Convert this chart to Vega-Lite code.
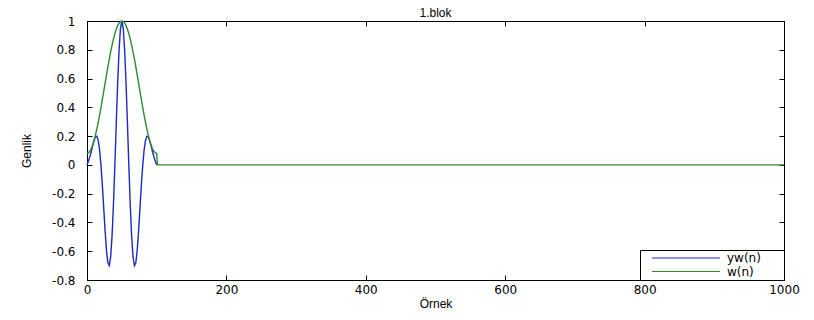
{
  "$schema": "https://vega.github.io/schema/vega-lite/v6.json",
  "width": 697,
  "height": 259,
  "autosize": {"type": "none"},
  "padding": {"left": 87, "top": 21, "right": 30, "bottom": 40},
  "background": "white",
  "title": {"text": "1.blok", "font": "Liberation Sans", "fontSize": 12, "fontWeight": "normal", "color": "black", "offset": -5},
  "config": {
    "view": {"stroke": "black", "strokeWidth": 1},
    "axis": {
      "grid": false, "domain": false, "tickColor": "black", "tickSize": -5,
      "labelFont": "DejaVu Sans", "labelFontSize": 12, "labelColor": "black",
      "titleFont": "Liberation Sans", "titleFontSize": 12, "titleFontWeight": "normal", "titleColor": "black",
      "labelFlush": false
    }
  },
  "data": {"values": [
    {"n":0,"v":0,"s":"yw(n)"},{"n":2,"v":0.0258,"s":"yw(n)"},{"n":4,"v":0.0555,"s":"yw(n)"},{"n":6,"v":0.0909,"s":"yw(n)"},{"n":8,"v":0.1302,"s":"yw(n)"},{"n":10,"v":0.1679,"s":"yw(n)"},{"n":12,"v":0.1947,"s":"yw(n)"},{"n":14,"v":0.1997,"s":"yw(n)"},{"n":16,"v":0.1725,"s":"yw(n)"},{"n":18,"v":0.1063,"s":"yw(n)"},{"n":20,"v":0,"s":"yw(n)"},{"n":22,"v":-0.1402,"s":"yw(n)"},{"n":24,"v":-0.3004,"s":"yw(n)"},{"n":26,"v":-0.4602,"s":"yw(n)"},{"n":28,"v":-0.5955,"s":"yw(n)"},{"n":30,"v":-0.6822,"s":"yw(n)"},{"n":32,"v":-0.6999,"s":"yw(n)"},{"n":34,"v":-0.6363,"s":"yw(n)"},{"n":36,"v":-0.4898,"s":"yw(n)"},{"n":38,"v":-0.2705,"s":"yw(n)"},{"n":40,"v":0,"s":"yw(n)"},{"n":42,"v":0.2914,"s":"yw(n)"},{"n":44,"v":0.5688,"s":"yw(n)"},{"n":46,"v":0.7973,"s":"yw(n)"},{"n":48,"v":0.9476,"s":"yw(n)"},{"n":50,"v":1,"s":"yw(n)"},{"n":52,"v":0.9476,"s":"yw(n)"},{"n":54,"v":0.7973,"s":"yw(n)"},{"n":56,"v":0.5688,"s":"yw(n)"},{"n":58,"v":0.2914,"s":"yw(n)"},{"n":60,"v":0,"s":"yw(n)"},{"n":62,"v":-0.2705,"s":"yw(n)"},{"n":64,"v":-0.4898,"s":"yw(n)"},{"n":66,"v":-0.6363,"s":"yw(n)"},{"n":68,"v":-0.6999,"s":"yw(n)"},{"n":70,"v":-0.6822,"s":"yw(n)"},{"n":72,"v":-0.5955,"s":"yw(n)"},{"n":74,"v":-0.4602,"s":"yw(n)"},{"n":76,"v":-0.3004,"s":"yw(n)"},{"n":78,"v":-0.1402,"s":"yw(n)"},{"n":80,"v":0,"s":"yw(n)"},{"n":82,"v":0.1063,"s":"yw(n)"},{"n":84,"v":0.1725,"s":"yw(n)"},{"n":86,"v":0.1997,"s":"yw(n)"},{"n":88,"v":0.1947,"s":"yw(n)"},{"n":90,"v":0.1679,"s":"yw(n)"},{"n":92,"v":0.1302,"s":"yw(n)"},{"n":94,"v":0.0909,"s":"yw(n)"},{"n":96,"v":0.0555,"s":"yw(n)"},{"n":98,"v":0.0258,"s":"yw(n)"},{"n":100,"v":0,"s":"yw(n)"},
    {"n":0,"v":0.08,"s":"w(n)"},{"n":2,"v":0.0836,"s":"w(n)"},{"n":4,"v":0.0945,"s":"w(n)"},{"n":6,"v":0.1123,"s":"w(n)"},{"n":8,"v":0.1369,"s":"w(n)"},{"n":10,"v":0.1679,"s":"w(n)"},{"n":12,"v":0.2047,"s":"w(n)"},{"n":14,"v":0.2468,"s":"w(n)"},{"n":16,"v":0.2935,"s":"w(n)"},{"n":18,"v":0.3441,"s":"w(n)"},{"n":20,"v":0.3979,"s":"w(n)"},{"n":22,"v":0.4538,"s":"w(n)"},{"n":24,"v":0.5111,"s":"w(n)"},{"n":26,"v":0.5689,"s":"w(n)"},{"n":28,"v":0.6262,"s":"w(n)"},{"n":30,"v":0.6822,"s":"w(n)"},{"n":32,"v":0.7359,"s":"w(n)"},{"n":34,"v":0.7865,"s":"w(n)"},{"n":36,"v":0.8332,"s":"w(n)"},{"n":38,"v":0.8753,"s":"w(n)"},{"n":40,"v":0.9122,"s":"w(n)"},{"n":42,"v":0.9431,"s":"w(n)"},{"n":44,"v":0.9677,"s":"w(n)"},{"n":46,"v":0.9855,"s":"w(n)"},{"n":48,"v":0.9964,"s":"w(n)"},{"n":50,"v":1,"s":"w(n)"},{"n":52,"v":0.9964,"s":"w(n)"},{"n":54,"v":0.9855,"s":"w(n)"},{"n":56,"v":0.9677,"s":"w(n)"},{"n":58,"v":0.9431,"s":"w(n)"},{"n":60,"v":0.9122,"s":"w(n)"},{"n":62,"v":0.8753,"s":"w(n)"},{"n":64,"v":0.8332,"s":"w(n)"},{"n":66,"v":0.7865,"s":"w(n)"},{"n":68,"v":0.7359,"s":"w(n)"},{"n":70,"v":0.6822,"s":"w(n)"},{"n":72,"v":0.6262,"s":"w(n)"},{"n":74,"v":0.5689,"s":"w(n)"},{"n":76,"v":0.5111,"s":"w(n)"},{"n":78,"v":0.4538,"s":"w(n)"},{"n":80,"v":0.3979,"s":"w(n)"},{"n":82,"v":0.3441,"s":"w(n)"},{"n":84,"v":0.2935,"s":"w(n)"},{"n":86,"v":0.2468,"s":"w(n)"},{"n":88,"v":0.2047,"s":"w(n)"},{"n":90,"v":0.1679,"s":"w(n)"},{"n":92,"v":0.1369,"s":"w(n)"},{"n":94,"v":0.1123,"s":"w(n)"},{"n":96,"v":0.0945,"s":"w(n)"},{"n":98,"v":0.0836,"s":"w(n)"},{"n":100,"v":0.08,"s":"w(n)"},{"n":101,"v":0,"s":"w(n)"},{"n":1000,"v":0,"s":"w(n)"}
  ]},
  "layer": [
    {
      "mark": {"type": "line", "strokeWidth": 1.4},
      "encoding": {
        "x": {"field": "n", "type": "quantitative", "scale": {"domain": [0, 1000], "nice": false},
              "axis": {"title": "Örnek", "values": [0, 200, 400, 600, 800, 1000], "labelExpr": "'' + datum.value", "labelPadding": 9, "titlePadding": 3}},
        "y": {"field": "v", "type": "quantitative", "scale": {"domain": [-0.8, 1], "nice": false, "zero": false},
              "axis": {"title": "Genlik", "values": [-0.8, -0.6, -0.4, -0.2, 0, 0.2, 0.4, 0.6, 0.8, 1], "labelExpr": "'' + datum.value", "labelPadding": 17, "titlePadding": 18}},
        "color": {"field": "s", "type": "nominal",
                  "scale": {"domain": ["yw(n)", "w(n)"], "range": ["#1a2bc0", "#2e8b2e"]},
                  "legend": {"title": null, "orient": "bottom-right", "offset": 0, "strokeColor": "black", "fillColor": "white",
                             "padding": 2, "symbolType": "M-10,0H10M27.5,0", "symbolSize": 46.24, "symbolStrokeWidth": 1, "symbolOffset": 38,
                             "labelFont": "DejaVu Sans", "labelFontSize": 12, "labelColor": "black", "labelOffset": 35, "rowPadding": 1.5}}
      }
    },
    {
      "mark": {"type": "line", "opacity": 0},
      "encoding": {
        "x": {"field": "n", "type": "quantitative", "axis": {"orient": "top", "labels": false, "title": null, "values": [0, 200, 400, 600, 800, 1000]}},
        "y": {"field": "v", "type": "quantitative", "axis": {"orient": "right", "labels": false, "title": null, "values": [-0.8, -0.6, -0.4, -0.2, 0, 0.2, 0.4, 0.6, 0.8, 1]}}
      }
    }
  ],
  "resolve": {"axis": {"x": "independent", "y": "independent"}}
}
